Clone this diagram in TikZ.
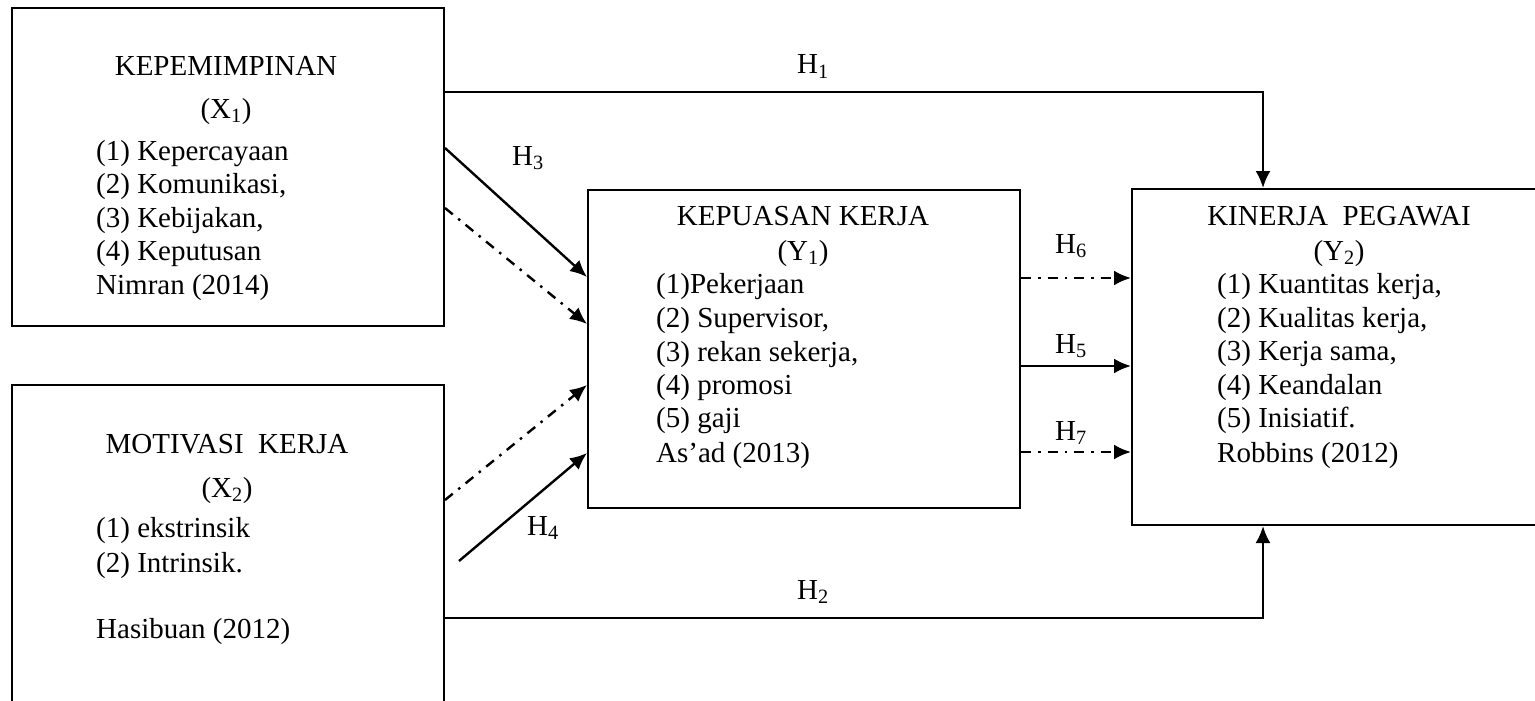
\documentclass[tikz,border=0pt]{standalone}
\usepackage{fontspec}
\setmainfont{Liberation Serif}
\usetikzlibrary{arrows.meta}
\tikzset{
  every node/.style={font=\fontsize{29}{34}\selectfont, inner sep=0pt},
  box/.style={draw, line width=2pt, rectangle, anchor=north west},
  arr/.style={line width=2.4pt, -{Latex[length=17pt,width=15pt]}},
  dd/.style={arr, dash pattern=on 10pt off 7pt on 2.5pt off 7pt},
  ttl/.style={anchor=base},
  itm/.style={anchor=base west},
  lbl/.style={anchor=base west}
}
\begin{document}
\begin{tikzpicture}[x=1pt,y=-1pt]
\useasboundingbox (0,0) rectangle (1535,701);
\clip (0,0) rectangle (1535,701);
% boxes
\node[box, minimum width=432pt, minimum height=318pt] (b1) at (11,7) {};
\node[box, minimum width=432pt, minimum height=340pt] (b2) at (11,384) {};
\node[box, minimum width=432pt, minimum height=318pt] (b3) at (587,189) {};
\node[box, minimum width=420pt, minimum height=336pt] (b4) at (1131,188) {};
% box 1 text
\node[ttl] (t1a) at (226,76) {KEPEMIMPINAN};
\node[ttl] (t1b) at (226,118) {(X\textsubscript{1})};
\node[itm] (t1c) at (96,160) {(1) Kepercayaan};
\node[itm] (t1d) at (96,193) {(2) Komunikasi,};
\node[itm] (t1e) at (96,227) {(3) Kebijakan,};
\node[itm] (t1f) at (96,260) {(4) Keputusan};
\node[itm] (t1g) at (96,294) {Nimran (2014)};
% box 2 text
\node[ttl] (t2a) at (227,453) {MOTIVASI\ \ KERJA};
\node[ttl] (t2b) at (227,497) {(X\textsubscript{2})};
\node[itm] (t2c) at (96,537) {(1) ekstrinsik};
\node[itm] (t2d) at (96,572) {(2) Intrinsik.};
\node[itm] (t2e) at (96,638) {Hasibuan (2012)};
% box 3 text
\node[ttl] (t3a) at (803,225) {KEPUASAN KERJA};
\node[ttl] (t3b) at (803,260) {(Y\textsubscript{1})};
\node[itm] (t3c) at (656,293) {(1)Pekerjaan};
\node[itm] (t3d) at (656,327) {(2) Supervisor,};
\node[itm] (t3e) at (656,361) {(3) rekan sekerja,};
\node[itm] (t3f) at (656,394) {(4) promosi};
\node[itm] (t3g) at (656,427) {(5) gaji};
\node[itm] (t3h) at (656,462) {As’ad (2013)};
% box 4 text
\node[ttl] (t4a) at (1339,225) {KINERJA\ \ PEGAWAI};
\node[ttl] (t4b) at (1339,260) {(Y\textsubscript{2})};
\node[itm] (t4c) at (1217,293) {(1) Kuantitas kerja,};
\node[itm] (t4d) at (1217,327) {(2) Kualitas kerja,};
\node[itm] (t4e) at (1217,360) {(3) Kerja sama,};
\node[itm] (t4f) at (1217,394) {(4) Keandalan};
\node[itm] (t4g) at (1217,427) {(5) Inisiatif.};
\node[itm] (t4h) at (1217,462) {Robbins (2012)};
% labels
\node[ttl] (h1) at (813,74) {H\textsubscript{1}};
\node[ttl] (h2) at (813,599) {H\textsubscript{2}};
\node[lbl] (h3) at (512,165) {H\textsubscript{3}};
\node[lbl] (h4) at (527,535) {H\textsubscript{4}};
\node[lbl] (h6) at (1055,253) {H\textsubscript{6}};
\node[lbl] (h5) at (1055,353) {H\textsubscript{5}};
\node[lbl] (h7) at (1055,440) {H\textsubscript{7}};
% coordinates
\coordinate (h1s) at ([yshift=-85pt]b1.north east);
\coordinate (h1e) at ([xshift=132pt]b4.north west);
\coordinate (h2s) at ([yshift=-234pt]b2.north east);
\coordinate (h2e) at ([xshift=132pt]b4.south west);
\coordinate (h4s) at (459,561);
\coordinate (h6s) at ([yshift=-89pt]b3.north east);
\coordinate (h5s) at ([yshift=-177pt]b3.north east);
\coordinate (h7s) at ([yshift=-263pt]b3.north east);
% connectors
\draw[arr] (h1s) -| (h1e);
\draw[arr] (h2s) -| (h2e);
\draw[arr] ([yshift=-141pt]b1.north east) -- ([yshift=-88pt]b3.north west);
\draw[dd] ([yshift=-201pt]b1.north east) -- ([yshift=-135pt]b3.north west);
\draw[dd] ([yshift=-116pt]b2.north east) -- ([yshift=-196pt]b3.north west);
\draw[arr] (h4s) -- ([yshift=-264pt]b3.north west);
\draw[dd] (h6s) -- (h6s -| b4.west);
\draw[arr] (h5s) -- (h5s -| b4.west);
\draw[dd] (h7s) -- (h7s -| b4.west);
\end{tikzpicture}
\end{document}
